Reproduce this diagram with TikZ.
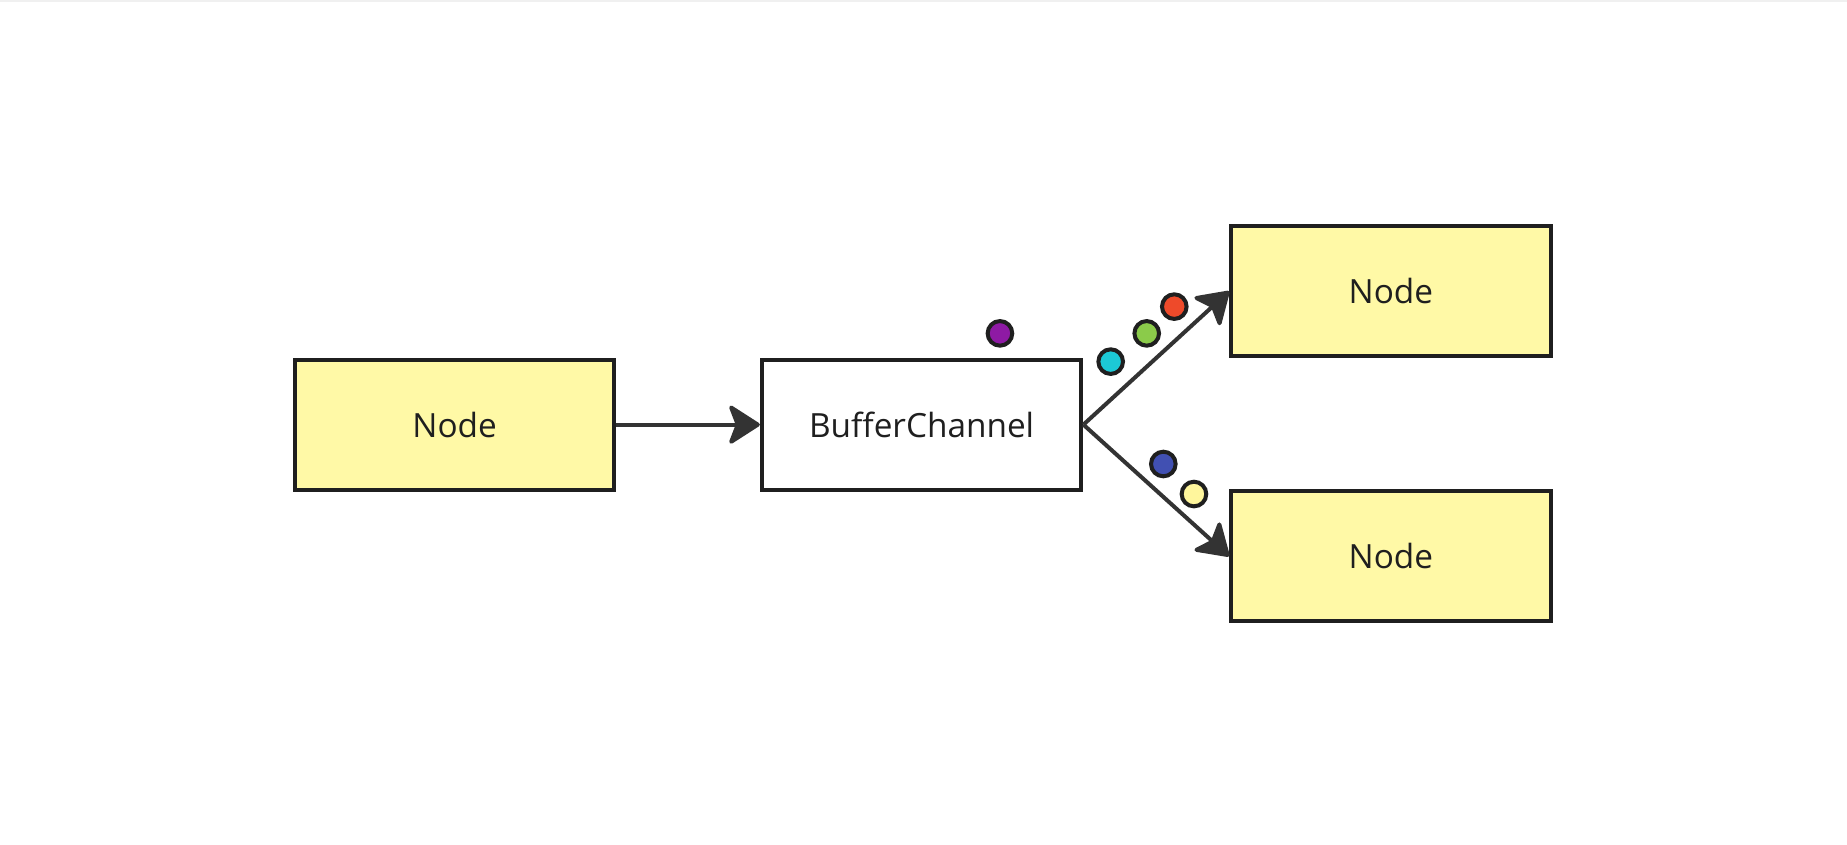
\documentclass[tikz,border=0pt]{standalone}
\usepackage{fontspec}
\setmainfont{Open Sans}
\usetikzlibrary{arrows.meta}
\definecolor{nodefill}{HTML}{FFF9A6}
\definecolor{edge}{HTML}{1F1F1F}
\definecolor{conn}{HTML}{333333}
\definecolor{cpurple}{HTML}{8E1AA4}
\definecolor{ccyan}{HTML}{1CC9D6}
\definecolor{cgreen}{HTML}{8BCB4A}
\definecolor{cred}{HTML}{EE4A2A}
\definecolor{cblue}{HTML}{4150B2}
\definecolor{cyellow}{HTML}{FFF69C}
\begin{document}
\begin{tikzpicture}[x=1pt,y=-1pt,
  box/.style={draw=edge,line width=3.5pt,minimum width=271.2pt,minimum height=110.3pt,inner sep=0pt,font=\fontsize{28.3}{34}\selectfont,text=edge},
  ybox/.style={box,fill=nodefill},
  wbox/.style={box,fill=white},
  conn/.style={draw=conn,line width=3.4pt,-{Stealth[length=29pt,width=37pt,inset=7pt,round]}},
  dot/.style={circle,draw=edge,line width=3.4pt,minimum size=20.9pt,inner sep=0pt}]
\useasboundingbox (0,0) rectangle (1568,717.3);
\fill[white] (0,0) rectangle (1568,717.3);
\draw[black!6,line width=2pt] (0,1) -- (1568,1);
\node[ybox] (a) at (385.9,360.5) {Node};
\node[wbox] (b) at (782.4,360.5) {BufferChannel};
\node[ybox] (c) at (1180.8,247.3) {Node};
\node[ybox] (d) at (1180.8,472.3) {Node};
\draw[conn] (a.east) -- (b.west);
\draw[conn] (b.east) -- (c.west);
\draw[conn] (b.east) -- (d.west);
\node[dot,fill=cpurple] (p1) at (848.9,283.0) {};
\node[dot,fill=ccyan] (p2) at (942.9,307.0) {};
\node[dot,fill=cgreen] (p3) at (973.5,283.0) {};
\node[dot,fill=cred] (p4) at (996.9,260.3) {};
\node[dot,fill=cblue] (p5) at (987.6,393.9) {};
\node[dot,fill=cyellow] (p6) at (1013.6,419.4) {};
\end{tikzpicture}
\end{document}
